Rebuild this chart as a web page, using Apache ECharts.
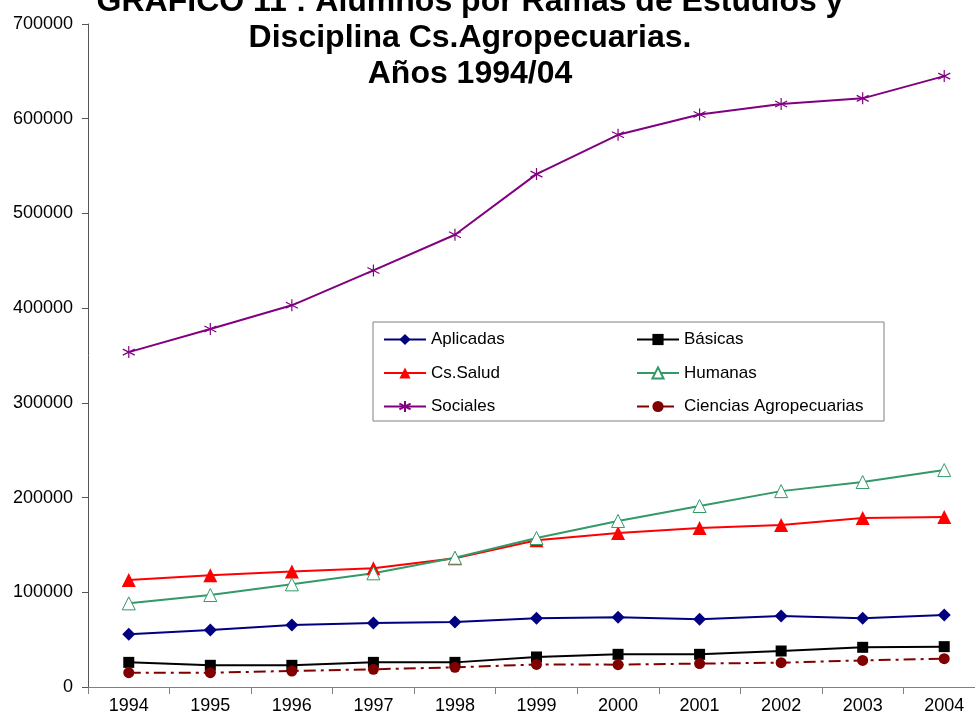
<!DOCTYPE html>
<html>
<head>
<meta charset="utf-8">
<script src="https://cdn.jsdelivr.net/npm/echarts@6/dist/echarts.min.js"></script>
<style>
  html, body { margin: 0; padding: 0; background: #fff; overflow: hidden; }
  #chart { width: 975px; height: 722px; }
</style>
</head>
<body>
<div id="chart"></div>
<script>
// Alumnos por ramas de estudio, 1994-2004
const years = ['1994', '1995', '1996', '1997', '1998', '1999', '2000', '2001', '2002', '2003', '2004'];
const aplicadas = [55600, 60200, 65500, 67600, 68600, 72700, 73600, 71500, 75000, 72500, 76000];
const basicas = [26000, 22900, 22900, 26000, 26000, 31700, 34500, 34500, 38000, 41900, 42600];
const csSalud = [113000, 118000, 122000, 125400, 136000, 155000, 162600, 167900, 171000, 178400, 179500];
const humanas = [88300, 97100, 108400, 120000, 136500, 157300, 175300, 191100, 206800, 216400, 229000];
const sociales = [353600, 378000, 403000, 439800, 477500, 541500, 583000, 604500, 615600, 621500, 645000];
const agropecuarias = [15100, 15100, 16900, 18700, 20800, 23800, 23600, 24700, 25700, 28100, 29900];
const yTicks = { min: 0, max: 700000, step: 100000 };

const FONT = "'Liberation Sans', Arial, sans-serif";
const asterisk = 'path://M6,0L6,12M0.8,3L11.2,9M0.8,9L11.2,3';

function lineSeries(name, data, color, symbol, size, extra) {
  return Object.assign({
    name: name,
    type: 'line',
    data: data,
    symbol: symbol,
    symbolSize: size,
    showAllSymbol: true,
    lineStyle: { color: color, width: 2 },
    itemStyle: { color: color, borderColor: color, borderWidth: 0 },
    emphasis: { disabled: true },
    z: 3
  }, extra || {});
}

const legendText = { fontFamily: FONT, fontSize: 17, color: '#000' };

const chart = echarts.init(document.getElementById('chart'));
chart.setOption({
  animation: false,
  backgroundColor: '#fff',
  title: {
    text: 'GRÁFICO 11 : Alumnos por Ramas de Estudios y\nDisciplina Cs.Agropecuarias.\nAños 1994/04',
    left: 470,
    textAlign: 'center',
    top: -16,
    padding: 0,
    textStyle: { fontFamily: FONT, fontSize: 32, fontWeight: 'bold', color: '#000', lineHeight: 36 }
  },
  graphic: [{
    type: 'rect',
    shape: { x: 373, y: 322, width: 511, height: 99 },
    style: { fill: '#fff', stroke: '#808080', lineWidth: 1 },
    z: 1
  }],
  legend: [{
    data: ['Aplicadas', 'Cs.Salud', 'Sociales'],
    orient: 'vertical',
    left: 383,
    top: 331,
    padding: 0,
    itemWidth: 42,
    itemHeight: 14,
    itemGap: 16.5,
    textStyle: legendText
  }, {
    data: ['Básicas', 'Humanas', 'Ciencias Agropecuarias'],
    orient: 'vertical',
    left: 636,
    top: 331,
    padding: 0,
    itemWidth: 42,
    itemHeight: 14,
    itemGap: 16.5,
    textStyle: legendText
  }],
  grid: { left: 88, top: 24, width: 897, bottom: 35, containLabel: false, outerBoundsMode: 'none' },
  xAxis: {
    type: 'category',
    data: years,
    boundaryGap: true,
    axisLine: { lineStyle: { color: '#808080', width: 1 } },
    axisTick: { show: true, length: 7, lineStyle: { color: '#808080' } },
    axisLabel: { fontFamily: FONT, fontSize: 18, color: '#000', margin: 10, interval: 0 },
    splitLine: { show: false }
  },
  yAxis: {
    type: 'value',
    min: yTicks.min,
    max: yTicks.max,
    interval: yTicks.step,
    axisLine: { show: true, lineStyle: { color: '#555', width: 1 } },
    axisTick: { show: true, length: 6, lineStyle: { color: '#555' } },
    axisLabel: {
      fontFamily: FONT, fontSize: 18, color: '#000', margin: 15,
      formatter: function (v) { return String(v); }
    },
    splitLine: { show: false }
  },
  series: [
    lineSeries('Aplicadas', aplicadas, '#000080', 'diamond', 13),
    lineSeries('Básicas', basicas, '#000000', 'rect', 11),
    lineSeries('Cs.Salud', csSalud, '#ff0000', 'triangle', 14),
    lineSeries('Humanas', humanas, '#339966', 'triangle', 13, {
      itemStyle: { color: '#ffffff', borderColor: '#339966', borderWidth: 1 }
    }),
    lineSeries('Sociales', sociales, '#800080', asterisk, 12, {
      itemStyle: { color: '#800080', borderColor: '#800080', borderWidth: 1.2 }
    }),
    lineSeries('Ciencias Agropecuarias', agropecuarias, '#800000', 'circle', 11, {
      lineStyle: { color: '#800000', width: 2, type: [12, 5, 3, 5] }
    })
  ]
});
</script>
</body>
</html>
